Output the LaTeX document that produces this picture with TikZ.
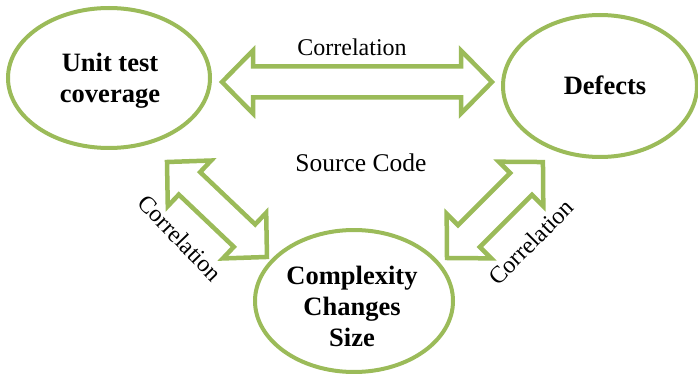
\documentclass[tikz,border=0pt]{standalone}
\usepackage{fontspec}
\setmainfont{Liberation Serif}
\usetikzlibrary{shapes.geometric,calc}

\definecolor{olive}{RGB}{155,187,89}

\tikzset{
  bubble/.style={draw=olive, line width=4pt, ellipse, inner sep=0pt},
  bubbletext/.style={font=\fontsize{26.5}{31}\selectfont\bfseries, align=center},
  blockarrow/.style={draw=olive, line width=4.5pt, line join=miter, fill=white},
  label/.style={font=\fontsize{24}{28}\selectfont}
}

% Hollow double-headed block arrow from tip #1 to tip #2
\newcommand\blockarrow[2]{%
  \draw[blockarrow] let \p1=($(#2)-(#1)$), \n1={atan2(\y1,\x1)}, \n2={veclen(\x1,\y1)} in
    [shift={(#1)}, rotate=\n1]
    (0pt,0pt) -- (31pt,31.5pt) -- (31pt,15.5pt) -- ({\n2-31pt},15.5pt) -- ({\n2-31pt},31.5pt)
    -- (\n2,0pt) -- ({\n2-31pt},-31.5pt) -- ({\n2-31pt},-15.5pt) -- (31pt,-15.5pt)
    -- (31pt,-31.5pt) -- cycle;
}

\begin{document}
\begin{tikzpicture}[x=1pt, y=-1pt]
  \useasboundingbox (0,0) rectangle (698,374);

  % the three measures
  \node[bubble, minimum width=202pt, minimum height=140pt] (unit) at (109,78) {};
  \node[bubble, minimum width=194pt, minimum height=142pt] (defects) at (600,86) {};
  \node[bubble, minimum width=198pt, minimum height=142pt] (cplx) at (354,301) {};

  \node[bubbletext] (unitlbl) at (110,81) {Unit test\\coverage};
  \node[bubbletext] (deflbl) at (605,85) {Defects};
  \node[bubbletext] (cplxlbl) at (352,306) {Complexity\\Changes\\Size};

  % arrow tips
  \coordinate (h1) at (222,82);
  \coordinate (h2) at (492,82);
  \coordinate (l1) at (167,162);
  \coordinate (l2) at (267,257);
  \coordinate (r1) at (447,258);
  \coordinate (r2) at (543,162);

  \blockarrow{h1}{h2}
  \blockarrow{l1}{l2}
  \blockarrow{r1}{r2}

  % labels
  \node[label] (ctop) at (352,47) {Correlation};
  \node[label, rotate=-46] (cleft) at (180,238) {Correlation};
  \node[label, rotate=45] (cright) at (531,242) {Correlation};
  \node[font=\fontsize{25.5}{30}\selectfont] (src) at (361,163) {Source Code};
\end{tikzpicture}
\end{document}
